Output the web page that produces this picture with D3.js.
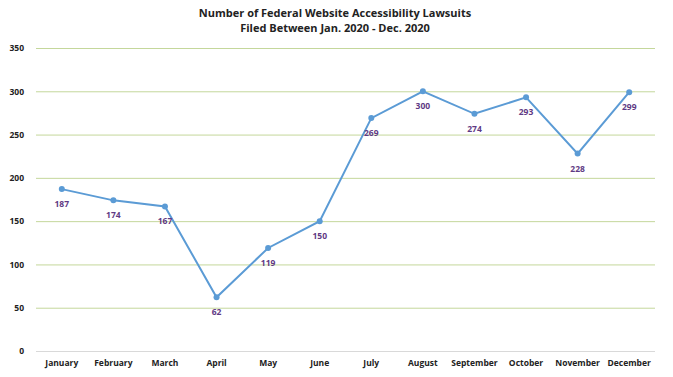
<!DOCTYPE html>
<html><head><meta charset="utf-8">
<script src="https://cdn.jsdelivr.net/npm/d3@7"></script>
<style>body{margin:0;background:#fff}svg{display:block}text{font-family:"Open Sans","Liberation Sans",sans-serif;font-weight:bold}</style>
</head><body><svg width="673" height="377"></svg>
<script>
const months = ["January","February","March","April","May","June","July","August","September","October","November","December"];
const lawsuits = [187,174,167,62,119,150,269,300,274,293,228,299];
const yTicks = [0,50,100,150,200,250,300,350];
const titleLines = ["Number of Federal Website Accessibility Lawsuits","Filed Between Jan. 2020 - Dec. 2020"];

const svg = d3.select("svg");
const x = d3.scaleBand().domain(months).range([36,655]);
const y = d3.scaleLinear().domain([0,350]).range([351,48]);

svg.selectAll(".title").data(titleLines).join("text")
  .attr("x",335).attr("y",(d,i)=>17+i*15).attr("text-anchor","middle")
  .attr("font-size",11).attr("fill","#222").text(d=>d);

const yAxis = svg.append("g").attr("transform","translate(36,0)")
  .call(d3.axisLeft(y).tickValues(yTicks).tickSize(-619).tickPadding(12));
yAxis.select(".domain").remove();
yAxis.selectAll("line").attr("stroke",d=>d===0?"#d9d9d9":"#c4d79b").attr("stroke-width",1);
yAxis.selectAll("text").attr("font-size",8.5).attr("fill","#222").attr("font-family","'Open Sans',sans-serif").attr("font-weight","bold");

const xAxis = svg.append("g").attr("transform","translate(0,351)")
  .call(d3.axisBottom(x).tickSize(0).tickPadding(9));
xAxis.select(".domain").remove();
xAxis.selectAll("text").attr("font-size",8.5).attr("fill","#222").attr("font-family","'Open Sans',sans-serif").attr("font-weight","bold");

const cx = d=>x(d.m)+x.bandwidth()/2;
const data = months.map((m,i)=>({m,v:lawsuits[i]}));
svg.append("path").datum(data)
  .attr("d",d3.line().x(cx).y(d=>y(d.v)))
  .attr("fill","none").attr("stroke","#5b9bd5").attr("stroke-width",2);
svg.selectAll(".pt").data(data).join("circle")
  .attr("cx",cx).attr("cy",d=>y(d.v)).attr("r",3).attr("fill","#5b9bd5");
svg.selectAll(".lbl").data(data).join("text")
  .attr("x",cx).attr("y",d=>y(d.v)+18).attr("text-anchor","middle")
  .attr("font-size",8.5).attr("fill","#5f3a84").text(d=>d.v);
</script></body></html>
